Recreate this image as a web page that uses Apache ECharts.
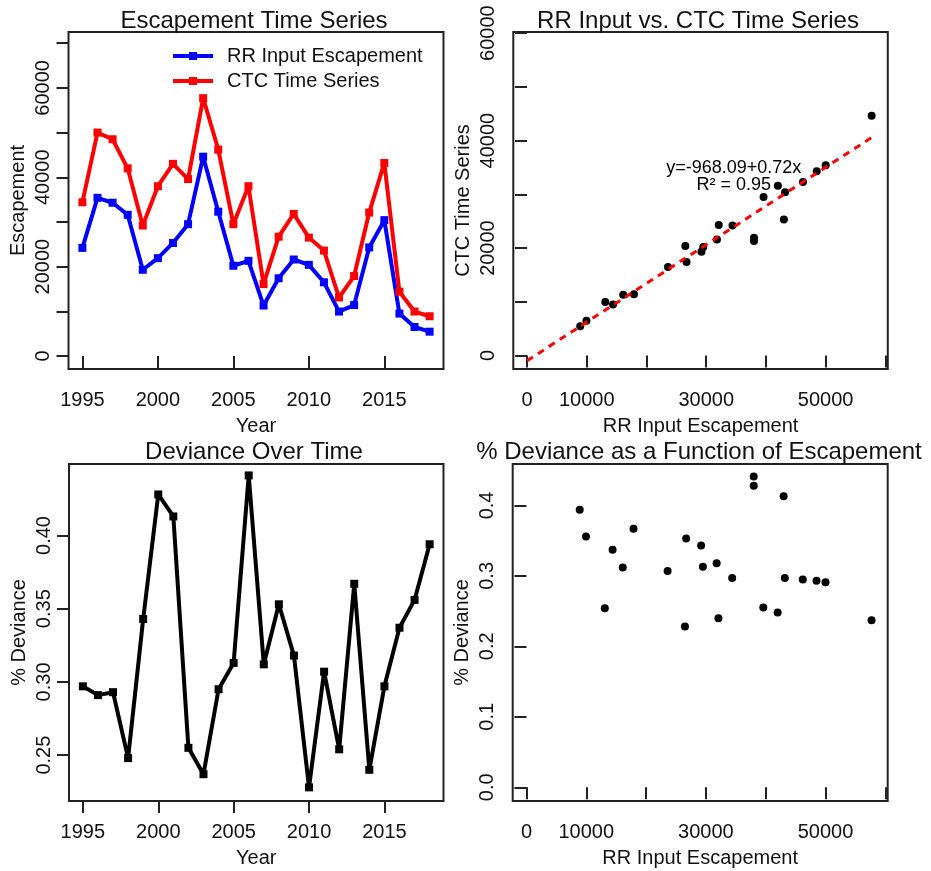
<!DOCTYPE html>
<html>
<head>
<meta charset="utf-8">
<script src="https://cdn.jsdelivr.net/npm/echarts@6/dist/echarts.min.js"></script>
<style>
  html, body { margin: 0; padding: 0; background: #fff; }
  #chart { width: 931px; height: 871px; }
</style>
</head>
<body>
<div id="chart"></div>
<script>
// Annual escapement, 1995-2018
const years = [1995, 1996, 1997, 1998, 1999, 2000, 2001, 2002, 2003, 2004, 2005, 2006,
               2007, 2008, 2009, 2010, 2011, 2012, 2013, 2014, 2015, 2016, 2017, 2018];
const rrEscapement = [24200, 35400, 34300, 31600, 19300, 21900, 25300, 29500, 44600, 32300, 20200, 21300,
                      11300, 17400, 21600, 20400, 16500, 9950, 11400, 24300, 30400, 9500, 6500, 5450];
const ctcSeries = [34400, 50000, 48500, 42000, 29200, 38000, 43000, 39600, 57700, 46200, 29500, 38000,
                   16100, 26700, 31800, 26500, 23600, 13100, 17900, 32100, 43200, 14400, 9950, 8900];
const pctDeviance = [0.297, 0.291, 0.293, 0.248, 0.343, 0.428, 0.413, 0.255, 0.237, 0.295, 0.313, 0.441,
                     0.312, 0.353, 0.318, 0.228, 0.307, 0.254, 0.367, 0.240, 0.297, 0.337, 0.356, 0.394];

// Linear fit reported on the scatter panel
const fitIntercept = -968.09;
const fitSlope = 0.72;
const fitR2 = 0.95;
const fitLabelAt = [34600, 33300];

// Tick positions and the subset that carries labels
const yearTicks = [1995, 2000, 2005, 2010, 2015];
const escTicks = [0, 10000, 20000, 30000, 40000, 50000, 60000, 70000];
const escLabels = [0, 20000, 40000, 60000];
const scatTicks = [0, 10000, 20000, 30000, 40000, 50000, 60000];
const scatXLabels = [0, 10000, 30000, 50000];
const scatYLabels = [0, 20000, 40000, 60000];
const devTimeTicks = [0.25, 0.30, 0.35, 0.40];
const devScatTicks = [0, 0.1, 0.2, 0.3, 0.4];

const FONT = 'Liberation Sans, Arial, sans-serif';
const INK = '#111';
const FRAME = '#222';

function axisBase(ticks, labels, fmt, rotate) {
  return {
    type: 'value',
    splitLine: { show: false },
    axisLine: { show: false },
    axisTick: { show: true, length: 12, customValues: ticks, lineStyle: { color: FRAME, width: 2 } },
    axisLabel: {
      customValues: labels, formatter: fmt, rotate: rotate || 0,
      fontFamily: FONT, fontSize: 20, color: INK, margin: rotate ? 15 : 21
    },
    nameTextStyle: { fontFamily: FONT, fontSize: 20, color: INK },
    nameLocation: 'middle'
  };
}
const plain = v => String(v);

function xAx(grid, min, max, ticks, labels, name, fmt) {
  return Object.assign(axisBase(ticks, labels, fmt || plain, 0),
    { gridIndex: grid, min, max, name, nameGap: 47 });
}
function yAx(grid, min, max, ticks, labels, name, fmt) {
  return Object.assign(axisBase(ticks, labels, fmt || plain, 90),
    { gridIndex: grid, min, max, name, nameGap: 40, nameRotate: 90 });
}

const gridStyle = { show: true, borderColor: FRAME, borderWidth: 2, backgroundColor: 'transparent' };

const maxCtc = Math.max(...ctcSeries);
const fitLine = [[0, fitIntercept], [maxCtc, fitIntercept + fitSlope * maxCtc]];

function titleText(text, x, y) {
  return {
    type: 'text', x, y,
    style: { text, fontFamily: FONT, fontSize: 24, fill: INK, textAlign: 'center', textVerticalAlign: 'middle' }
  };
}

const dot = { color: '#000', opacity: 1 };

const chart = echarts.init(document.getElementById('chart'), null, { renderer: 'canvas' });
chart.setOption({
  animation: false,
  backgroundColor: '#fff',
  graphic: [
    titleText('Escapement Time Series', 254, 21),
    titleText('RR Input vs. CTC Time Series', 698, 21),
    titleText('Deviance Over Time', 254, 452),
    titleText('% Deviance as a Function of Escapement', 699, 452)
  ],
  legend: {
    data: ['RR Input Escapement', 'CTC Time Series'],
    orient: 'vertical', left: 171, top: 46, padding: 0,
    itemWidth: 40, itemHeight: 10, itemGap: 5,
    lineStyle: { width: 4 },
    textStyle: { fontFamily: FONT, fontSize: 20, color: INK, lineHeight: 20, padding: [0, 0, 0, 9] }
  },
  grid: [
    Object.assign({ left: 68.5, top: 32, width: 375, height: 337 }, gridStyle),
    Object.assign({ left: 513.3, top: 32, width: 374.5, height: 337 }, gridStyle),
    Object.assign({ left: 69, top: 464, width: 374.5, height: 337 }, gridStyle),
    Object.assign({ left: 512.7, top: 464, width: 375, height: 337 }, gridStyle)
  ],
  xAxis: [
    xAx(0, 1994.08, 2018.92, yearTicks, yearTicks, 'Year'),
    xAx(1, -2300, 60400, scatTicks, scatXLabels, 'RR Input Escapement'),
    xAx(2, 1994.08, 2018.92, yearTicks, yearTicks, 'Year'),
    xAx(3, -2300, 60400, scatTicks, scatXLabels, 'RR Input Escapement')
  ],
  yAxis: [
    yAx(0, -2900, 72500, escTicks, escLabels, 'Escapement'),
    yAx(1, -2500, 60200, scatTicks, scatYLabels, 'CTC Time Series'),
    yAx(2, 0.2187, 0.4488, devTimeTicks, devTimeTicks, '% Deviance', v => v.toFixed(2)),
    yAx(3, -0.0195, 0.4588, devScatTicks, devScatTicks, '% Deviance', v => v.toFixed(1))
  ],
  series: [
    {
      name: 'RR Input Escapement', type: 'line', xAxisIndex: 0, yAxisIndex: 0,
      data: years.map((yr, i) => [yr, rrEscapement[i]]),
      symbol: 'rect', symbolSize: 8, showAllSymbol: true,
      lineStyle: { color: '#0000ff', width: 4 }, itemStyle: { color: '#0000ff', opacity: 1 }
    },
    {
      name: 'CTC Time Series', type: 'line', xAxisIndex: 0, yAxisIndex: 0,
      data: years.map((yr, i) => [yr, ctcSeries[i]]),
      symbol: 'rect', symbolSize: 8, showAllSymbol: true,
      lineStyle: { color: '#ff0000', width: 4 }, itemStyle: { color: '#ff0000', opacity: 1 }
    },
    {
      name: 'fit', type: 'line', xAxisIndex: 1, yAxisIndex: 1,
      data: fitLine, symbol: 'none',
      lineStyle: { color: '#ff0000', width: 3, type: [7, 6] }
    },
    {
      name: 'pairs', type: 'scatter', xAxisIndex: 1, yAxisIndex: 1,
      data: ctcSeries.map((x, i) => [x, rrEscapement[i]]),
      symbol: 'circle', symbolSize: 8, itemStyle: dot
    },
    {
      name: 'fitLabel', type: 'scatter', xAxisIndex: 1, yAxisIndex: 1,
      data: [fitLabelAt], symbolSize: 0, silent: true, z: 5,
      itemStyle: { opacity: 1 },
      label: {
        show: true, position: 'inside',
        formatter: 'y=' + fitIntercept.toFixed(2) + '+' + fitSlope.toFixed(2) + 'x\nR\u00B2 = ' + fitR2.toFixed(2),
        fontFamily: FONT, fontSize: 18, lineHeight: 17, color: '#000', align: 'center', verticalAlign: 'middle'
      }
    },
    {
      name: 'deviance', type: 'line', xAxisIndex: 2, yAxisIndex: 2,
      data: years.map((yr, i) => [yr, pctDeviance[i]]),
      symbol: 'rect', symbolSize: 8, showAllSymbol: true,
      lineStyle: { color: '#000', width: 4 }, itemStyle: { color: '#000', opacity: 1 }
    },
    {
      name: 'devVsEsc', type: 'scatter', xAxisIndex: 3, yAxisIndex: 3,
      data: ctcSeries.map((x, i) => [x, pctDeviance[i]]),
      symbol: 'circle', symbolSize: 8, itemStyle: dot
    }
  ]
});
</script>
</body>
</html>
